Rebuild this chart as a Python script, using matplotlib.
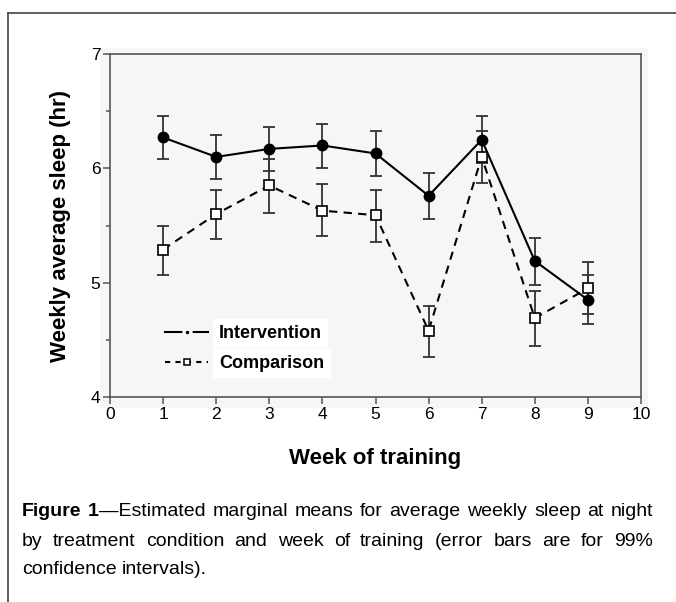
import matplotlib
matplotlib.use("Agg")
import matplotlib.pyplot as plt
from matplotlib.lines import Line2D
from matplotlib.patches import Rectangle
from matplotlib.ticker import MultipleLocator

plt.rcParams['font.family'] = ['Liberation Sans', 'DejaVu Sans']

# data
weeks = [1, 2, 3, 4, 5, 6, 7, 8, 9]
interv_mean = [6.27, 6.10, 6.17, 6.20, 6.13, 5.76, 6.25, 5.19, 4.85]
interv_low = [6.08, 5.91, 5.98, 6.00, 5.93, 5.56, 6.05, 4.98, 4.64]
interv_high = [6.46, 6.29, 6.36, 6.39, 6.33, 5.96, 6.46, 5.39, 5.07]
comp_mean = [5.29, 5.60, 5.85, 5.63, 5.59, 4.58, 6.10, 4.69, 4.95]
comp_low = [5.07, 5.38, 5.61, 5.41, 5.36, 4.35, 5.87, 4.45, 4.73]
comp_high = [5.50, 5.81, 6.08, 5.86, 5.81, 4.80, 6.33, 4.93, 5.18]

caption_lines = [
    "\u2014Estimated marginal means for average weekly sleep at night",
    "by treatment condition and week of training (error bars are for 99%",
    "confidence intervals).",
]

fig = plt.figure(figsize=(6.76, 6.02), dpi=100)
W, H = 676.0, 602.0
bg = '#f6f6f6'

# grey panel behind the axes
fig.add_artist(Rectangle((100 / W, 1 - 408 / H), 548 / W, 360 / H,
                         transform=fig.transFigure, facecolor=bg,
                         edgecolor='none', zorder=-10))
# outer frame (top and left edge visible)
fig.add_artist(Line2D([8 / W, 1.0], [1 - 13 / H, 1 - 13 / H], color='#444444', lw=1.2,
                      transform=fig.transFigure))
fig.add_artist(Line2D([8 / W, 8 / W], [1 - 13 / H, 0.0], color='#444444', lw=1.2,
                      transform=fig.transFigure))

ax = fig.add_axes([110 / W, 1 - 397 / H, 531 / W, 343 / H])
ax.set_facecolor(bg)

def err(mean, low, high):
    return [[m - l for m, l in zip(mean, low)], [h - m for m, h in zip(mean, high)]]

ax.errorbar(weeks, interv_mean, yerr=err(interv_mean, interv_low, interv_high),
            fmt='none', ecolor='#333333', elinewidth=1.3, capsize=4.5, capthick=1.3, zorder=2)
ax.errorbar(weeks, comp_mean, yerr=err(comp_mean, comp_low, comp_high),
            fmt='none', ecolor='#333333', elinewidth=1.3, capsize=4.5, capthick=1.3, zorder=2)
ax.plot(weeks, interv_mean, color='black', lw=1.5, marker='o', ms=7.5,
        mfc='black', mec='black', zorder=3)
ax.plot(weeks, comp_mean, color='black', lw=1.5, ls=(0, (4, 3)), marker='s', ms=6.5,
        mfc='white', mec='black', mew=1.2, zorder=3)

ax.set_xlim(0, 10)
ax.set_ylim(4, 7)
ax.xaxis.set_major_locator(MultipleLocator(1))
ax.yaxis.set_major_locator(MultipleLocator(1))
ax.yaxis.set_minor_locator(MultipleLocator(0.5))
for s in ax.spines.values():
    s.set_color('#555555')
    s.set_linewidth(1.2)
ax.tick_params(which='major', direction='out', length=5, width=1.1, color='#555555',
               labelsize=12.5, pad=2)
ax.tick_params(which='minor', direction='out', length=3, width=1.1, color='#555555')

ax.set_xlabel('Week of training', fontsize=16, fontweight='bold', labelpad=19)
ax.set_ylabel('Weekly average sleep (hr)', fontsize=16, fontweight='bold', labelpad=14)

# legend handles: small marker with a gap in the line around it
handles = [Line2D([], [], color='black', lw=1.5, marker='o', ms=5, mfc='black',
                  mec=bg, mew=2.5),
           Line2D([], [], color='black', lw=1.5, ls=(0, (2.5, 2.5)), marker='s', ms=4.5,
                  mfc='white', mec='black', mew=1.1)]
leg = ax.legend(handles, ['Intervention', 'Comparison'], loc='lower left',
                bbox_to_anchor=(0.073, 0.025), frameon=False, handlelength=2.4,
                handletextpad=0.6, labelspacing=0.72,
                prop={'weight': 'bold', 'size': 13})
for t in leg.get_texts():
    t.set_bbox(dict(facecolor='white', edgecolor='none', pad=4.5))

# caption, justified between x=22 and x=653 (last line left aligned)
cap_size = 14
renderer = fig.canvas.get_renderer()
x_left, x_right = 22.0, 653.0

def width_px(s, **kw):
    t = fig.text(0, 0, s, fontsize=cap_size, **kw)
    w = t.get_window_extent(renderer).width
    t.remove()
    return w

for i, line in enumerate(caption_lines):
    y = 1 - (512 + 29 * i) / H
    words = line.split(' ')
    bold_words = []
    if i == 0:
        bold_words = ['Figure', '1']
    all_words = bold_words + words
    weights = ['bold'] * len(bold_words) + ['normal'] * len(words)
    # the em dash follows "1" directly, no gap
    widths = [width_px(w, fontweight=wt) for w, wt in zip(all_words, weights)]
    gaps = len(all_words) - 1 - (1 if i == 0 else 0)
    if i < len(caption_lines) - 1:
        gap = (x_right - x_left - sum(widths)) / gaps
    else:
        gap = width_px('a b') - width_px('ab')
    x = x_left
    for j, (w, wt, wd) in enumerate(zip(all_words, weights, widths)):
        fig.text(x / W, y, w, fontsize=cap_size, fontweight=wt, va='center')
        x += wd
        if not (i == 0 and j == 1):
            x += gap

fig.savefig('out.png', dpi=100)
